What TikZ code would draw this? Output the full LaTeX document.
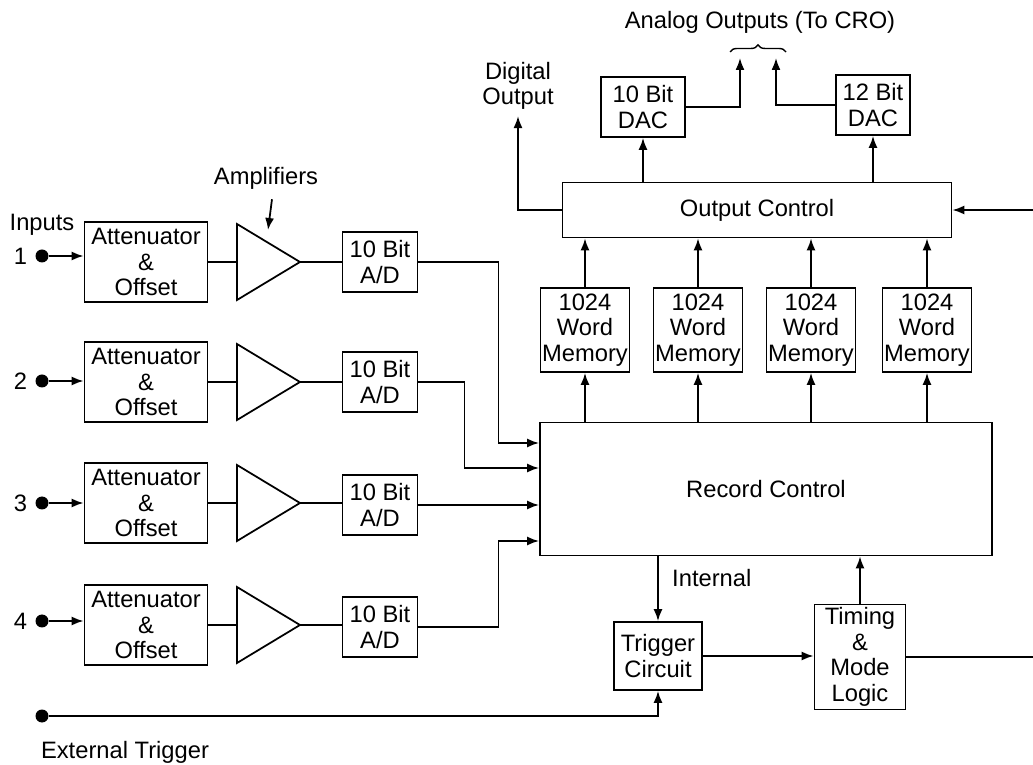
\documentclass[tikz,border=0pt]{standalone}
\usepackage{fontspec}
\setmainfont{Liberation Sans}
\usepackage{tikz}
\usetikzlibrary{calc,arrows.meta,decorations.pathreplacing}

\tikzset{
  blk/.style={draw, line width=1pt, align=center, inner sep=1pt},
  dotnode/.style={circle, fill=black, inner sep=0pt, minimum size=2.6mm},
  wire/.style={line width=1pt},
  arr/.style={line width=1pt, -{Latex[length=2.4mm,width=1.8mm]}},
}

\begin{document}
\begin{tikzpicture}[x=0.2mm, y=-0.2mm, font=\fontsize{13.5}{14.6}\selectfont]

    % 0. Khung hinh (1033 x 765)
    \useasboundingbox (0,0) rectangle (1033,765);

    % 1. Cac khoi dau vao: Attenuator & Offset
    \node[blk, minimum width=24.6mm, minimum height=16mm] (att1) at (146,262) {Attenuator\\\&\\Offset};
    \node[blk, minimum width=24.6mm, minimum height=16mm] (att2) at (146,382) {Attenuator\\\&\\Offset};
    \node[blk, minimum width=24.6mm, minimum height=16mm] (att3) at (146,503) {Attenuator\\\&\\Offset};
    \node[blk, minimum width=24.6mm, minimum height=16mm] (att4) at (146,625) {Attenuator\\\&\\Offset};

    % 2. Cac cham dau vao va so thu tu
    \node[dotnode] (in1) at (42,256) {};
    \node[dotnode] (in2) at (42,381) {};
    \node[dotnode] (in3) at (42,503) {};
    \node[dotnode] (in4) at (42,621) {};
    \node[left=1pt] at (in1.west) {1};
    \node[left=1pt] at (in2.west) {2};
    \node[left=1pt] at (in3.west) {3};
    \node[left=1pt] at (in4.west) {4};
    \node (inputs) at (42,225) {Inputs};

    \draw[arr] (in1) -- (in1 -| att1.west);
    \draw[arr] (in2) -- (in2 -| att2.west);
    \draw[arr] (in3) -- (in3 -| att3.west);
    \draw[arr] (in4) -- (in4 -| att4.west);

    % 3. Bo khuech dai (tam giac)
    \coordinate (amp1) at (237,262); \coordinate (tip1) at (300,262);
    \coordinate (amp2) at (237,382); \coordinate (tip2) at (300,382);
    \coordinate (amp3) at (237,503); \coordinate (tip3) at (300,503);
    \coordinate (amp4) at (237,625); \coordinate (tip4) at (300,625);
    \draw[wire] ($(amp1)+(0,-38)$) -- (tip1) -- ($(amp1)+(0,38)$) -- cycle;
    \draw[wire] ($(amp2)+(0,-38)$) -- (tip2) -- ($(amp2)+(0,38)$) -- cycle;
    \draw[wire] ($(amp3)+(0,-38)$) -- (tip3) -- ($(amp3)+(0,38)$) -- cycle;
    \draw[wire] ($(amp4)+(0,-38)$) -- (tip4) -- ($(amp4)+(0,38)$) -- cycle;
    \draw[wire] (att1.east) -- (amp1);
    \draw[wire] (att2.east) -- (amp2);
    \draw[wire] (att3.east) -- (amp3);
    \draw[wire] (att4.east) -- (amp4);

    \node (amplabel) at (266,178) {Amplifiers};
    \coordinate (ampto) at (268,230);
    \draw[arr] ($(amplabel.south)+(6,4)$) -- (ampto);

    % 4. Bo chuyen doi A/D
    \node[blk, minimum width=15mm, minimum height=12mm] (ad1) at (380,262) {10 Bit\\A/D};
    \node[blk, minimum width=15mm, minimum height=12mm] (ad2) at (380,382) {10 Bit\\A/D};
    \node[blk, minimum width=15mm, minimum height=12mm] (ad3) at (380,505) {10 Bit\\A/D};
    \node[blk, minimum width=15mm, minimum height=12mm] (ad4) at (380,627) {10 Bit\\A/D};
    \draw[wire] (tip1) -- (ad1.west);
    \draw[wire] (tip2) -- (ad2.west);
    \draw[wire] (tip3) -- (tip3 -| ad3.west);
    \draw[wire] (tip4) -- (tip4 -| ad4.west);

    % 5. Record Control
    \node[blk, minimum width=90.4mm, minimum height=26.6mm] (record) at (766,489) {Record Control};
    \draw[arr] (ad1.east) -- ++(80,0) |- ($(record.west)+(0,-46)$);
    \draw[arr] (ad2.east) -- ++(46,0) |- ($(record.west)+(0,-21)$);
    \draw[arr] (ad3.east) -- (ad3.east -| record.west);
    \draw[arr] (ad4.east) -- ++(80,0) |- ($(record.west)+(0,52)$);

    % 6. Bo nho 1024 tu
    \node[blk, minimum width=17.8mm, minimum height=16.8mm] (mem1) at (585,330) {1024\\Word\\Memory};
    \node[blk, minimum width=17.8mm, minimum height=16.8mm] (mem2) at (698,330) {1024\\Word\\Memory};
    \node[blk, minimum width=17.8mm, minimum height=16.8mm] (mem3) at (811,330) {1024\\Word\\Memory};
    \node[blk, minimum width=17.8mm, minimum height=16.8mm] (mem4) at (927,330) {1024\\Word\\Memory};

    % 7. Output Control va cac DAC
    \node[blk, minimum width=77.8mm, minimum height=11mm] (outctl) at (757,210) {Output Control};
    \node[blk, minimum width=16.8mm, minimum height=12mm] (dac10) at (643,107) {10 Bit\\DAC};
    \node[blk, minimum width=14.8mm, minimum height=12mm] (dac12) at (873,105) {12 Bit\\DAC};

    \draw[arr] (record.north -| mem1) -- (mem1.south);
    \draw[arr] (record.north -| mem2) -- (mem2.south);
    \draw[arr] (record.north -| mem3) -- (mem3.south);
    \draw[arr] (record.north -| mem4) -- (mem4.south);
    \draw[arr] (mem1.north) -- (mem1.north |- outctl.south);
    \draw[arr] (mem2.north) -- (mem2.north |- outctl.south);
    \draw[arr] (mem3.north) -- (mem3.north |- outctl.south);
    \draw[arr] (mem4.north) -- (mem4.north |- outctl.south);
    \draw[arr] (outctl.north -| dac10) -- (dac10.south);
    \draw[arr] (outctl.north -| dac12) -- (dac12.south);

    % 8. Dau ra so va dau ra tuong tu
    \node[align=center] (digital) at (518,86) {Digital\\Output};
    \draw[arr] (outctl.west) -| (digital.south);

    \coordinate (ana1) at (740,58);
    \coordinate (ana2) at (776,58);
    \draw[arr] (dac10.east) -| (ana1);
    \draw[arr] (dac12.west) -| (ana2);
    \draw[line width=0.8pt, decorate, decoration={brace, amplitude=4pt}] (730,52) -- (786,52);
    \node (analog) at (760,22) {Analog Outputs (To CRO)};

    \coordinate (ocin) at (1033,210);
    \draw[arr] (ocin) -- (outctl.east);

    % 9. Trigger Circuit va Timing & Mode Logic
    \node[blk, minimum width=17.6mm, minimum height=13.6mm] (trigger) at (658,656) {Trigger\\Circuit};
    \node[blk, minimum width=18.2mm, minimum height=21mm] (timing) at (860,657) {Timing\\\&\\Mode\\Logic};

    \draw[arr] (record.south -| trigger) -- (trigger.north);
    \node[right] at ($(record.south -| trigger)+(8,22)$) {Internal};
    \draw[arr] (trigger.east) -- (trigger.east -| timing.west);
    \draw[arr] (timing.north) -- (timing.north |- record.south);

    \coordinate (tmout) at (1033,657);
    \draw[wire] (timing.east |- tmout) -- (tmout);

    % 10. Kich ngoai
    \node[dotnode] (ext) at (42,716) {};
    \draw[arr] (ext) -| (trigger.south);
    \node (extlabel) at (125,752) {External Trigger};

\end{tikzpicture}
\end{document}
